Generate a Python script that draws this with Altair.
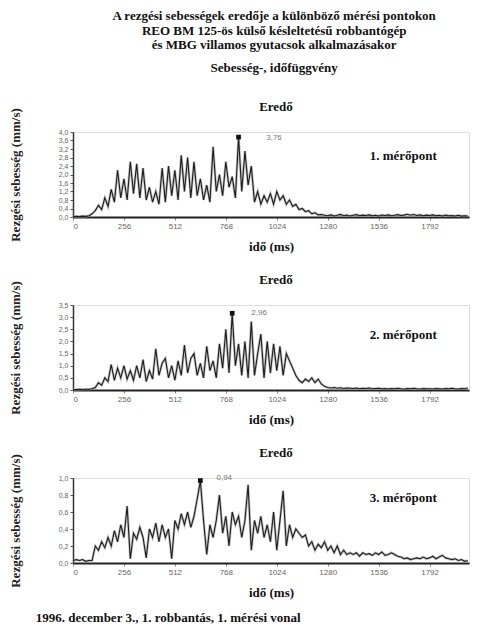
import altair as alt
import pandas as pd

# sampling grid (ms)
times = list(range(0, 2000, 16))

# 1. mérőpont – resultant velocity (mm/s)
v1 = [0.02, 0.03, 0.02, 0.04, 0.03, 0.06, 0.15, 0.3,
      0.55, 0.35, 0.9, 0.5, 1.3, 0.7, 2.2, 0.9,
      1.8, 0.8, 2.6, 1.1, 2.5, 0.9, 2.3, 0.8,
      1.4, 0.7, 1.2, 0.6, 2.3, 0.7, 2.4, 1.0,
      2.2, 0.8, 2.9, 1.2, 2.8, 0.9, 2.6, 1.0,
      1.8, 0.8, 1.5, 0.7, 3.3, 1.2, 2.0, 1.0,
      2.6, 1.4, 1.9, 0.9, 3.76, 1.2, 3.1, 1.5,
      2.4, 0.7, 1.2, 0.6, 1.0, 0.7, 1.1, 0.6,
      1.2, 0.8, 1.0, 0.6, 0.8, 0.5, 0.6, 0.35,
      0.4, 0.25, 0.3, 0.15, 0.2, 0.1, 0.12, 0.08,
      0.06, 0.1, 0.05, 0.08, 0.12, 0.06, 0.09, 0.05,
      0.08, 0.11, 0.06, 0.09, 0.07, 0.1, 0.06, 0.08,
      0.05, 0.09, 0.07, 0.1, 0.06, 0.08, 0.11, 0.07,
      0.09, 0.13, 0.08, 0.12, 0.07, 0.1, 0.06, 0.09,
      0.07, 0.1, 0.06, 0.08, 0.05, 0.09, 0.06, 0.07,
      0.05, 0.08, 0.04, 0.06, 0.05]

# 2. mérőpont
v2 = [0.02, 0.02, 0.03, 0.02, 0.03, 0.03, 0.05, 0.1,
      0.3, 0.2, 0.5, 0.35, 1.05, 0.4, 0.9, 0.5,
      1.0, 0.45, 0.8, 0.4, 1.0, 0.5, 1.25, 0.35,
      0.8, 0.45, 1.7, 0.6, 1.1, 1.3, 0.5, 1.0,
      0.4, 1.2, 0.6, 1.85, 0.7, 1.3, 1.5, 0.6,
      1.1, 0.5, 1.8, 0.8, 1.2, 0.5, 1.9, 0.9,
      2.5, 0.7, 3.16, 1.0, 1.9, 0.6, 2.0, 0.5,
      2.82, 0.6, 1.5, 2.3, 0.5, 2.0, 0.7, 1.9,
      0.8, 1.8, 0.6, 1.5, 1.2, 0.9, 0.6, 0.4,
      0.3, 0.45, 0.35, 0.5, 0.3, 0.45, 0.25, 0.15,
      0.1, 0.08, 0.1, 0.07, 0.09, 0.06, 0.08, 0.07,
      0.06, 0.08, 0.05, 0.07, 0.06, 0.08, 0.05, 0.06,
      0.07, 0.05, 0.06, 0.04, 0.06, 0.05, 0.07, 0.05,
      0.04, 0.06, 0.05, 0.07, 0.05, 0.04, 0.06, 0.05,
      0.05, 0.04, 0.06, 0.05, 0.04, 0.06, 0.05, 0.07,
      0.05, 0.04, 0.06, 0.05, 0.08]

# 3. mérőpont
v3 = [0.03, 0.04, 0.03, 0.04, 0.02, 0.03, 0.03, 0.2,
      0.15, 0.25, 0.18, 0.3, 0.2, 0.38, 0.25, 0.45,
      0.3, 0.67, 0.05, 0.35, 0.28, 0.42, 0.3, 0.06,
      0.4, 0.3, 0.47, 0.25, 0.45, 0.3, 0.4, 0.05,
      0.5, 0.4, 0.58, 0.45, 0.6, 0.42, 0.55, 0.75,
      0.97, 0.5, 0.1, 0.45, 0.3, 0.5, 0.8, 0.35,
      0.55, 0.2, 0.6, 0.45, 0.55, 0.3, 0.5, 0.92,
      0.15, 0.5, 0.35, 0.55, 0.3, 0.45, 0.25, 0.6,
      0.15, 0.5, 0.85, 0.2, 0.45, 0.3, 0.4, 0.35,
      0.3, 0.33, 0.2, 0.25, 0.15, 0.22, 0.18, 0.25,
      0.15, 0.2, 0.12, 0.2, 0.1, 0.15, 0.1, 0.12,
      0.1, 0.12, 0.08, 0.12, 0.1, 0.11, 0.09, 0.12,
      0.1, 0.13, 0.09, 0.1, 0.12, 0.1, 0.08, 0.07,
      0.05, 0.06, 0.04, 0.05, 0.06, 0.05, 0.07, 0.05,
      0.06, 0.08, 0.05, 0.07, 0.09, 0.06, 0.05, 0.04,
      0.05, 0.03, 0.04, 0.02, 0.03]

x_ticks = [0, 256, 512, 768, 1024, 1280, 1536, 1792]
y1_ticks = [0.0, 0.4, 0.8, 1.2, 1.6, 2.0, 2.4, 2.8, 3.2, 3.6, 4.0]
y2_ticks = [0.0, 0.5, 1.0, 1.5, 2.0, 2.5, 3.0, 3.5]
y3_ticks = [0.0, 0.2, 0.4, 0.6, 0.8, 1.0]

point_labels = ["1. mérőpont", "2. mérőpont", "3. mérőpont"]
peak_texts = ["3,76", "2,96", "0,94"]

title_lines = ["A rezgési sebességek eredője a különböző mérési pontokon",
               "REO BM 125-ös külső késleltetésű robbantógép",
               "és MBG villamos gyutacsok alkalmazásakor"]
subtitle = "Sebesség-, időfüggvény"
panel_title = "Eredő"
x_title = "idő (ms)"
y_title = "Rezgési sebesség (mm/s)"
footer = "1996. december 3., 1. robbantás, 1. mérési vonal"

SERIF = "Liberation Serif"
W, H = 396, 85


def panel(vals, ymax, yticks, label, peak_text, label_pos, peak_pos):
    df = pd.DataFrame({"t": times, "v": vals})
    x = alt.X("t:Q", scale=alt.Scale(domain=[0, 1990], nice=False, zero=False),
              axis=alt.Axis(values=x_ticks, format="d", labelOverlap=False,
                            title=x_title, labelFont="Liberation Sans",
                            labelFontSize=8, labelColor="#666", tickColor="#888",
                            tickSize=3, domainColor="#222", domainWidth=2,
                            titleFont=SERIF, titleFontSize=13, titleFontWeight="bold",
                            titleColor="#111", titlePadding=10, grid=False))
    y = alt.Y("v:Q", scale=alt.Scale(domain=[0, ymax], nice=False),
              axis=alt.Axis(values=yticks, labelOverlap=False,
                            labelExpr="replace(format(datum.value, '.1f'), '.', ',')",
                            title=y_title, labelFont="Liberation Sans", labelFontSize=7,
                            labelColor="#666", tickColor="#555", tickSize=3,
                            domainColor="#333", domainWidth=1.5,
                            titleFont=SERIF, titleFontSize=13, titleFontWeight="bold",
                            titleColor="#222", titlePadding=36, grid=False))
    halo = alt.Chart(df).mark_line(color="#999999", strokeWidth=2.6, opacity=0.6).encode(x=x, y=y)
    line = alt.Chart(df).mark_line(color="#1e1e1e", strokeWidth=1.1).encode(x=x, y=y)
    imax = vals.index(max(vals))
    pk = pd.DataFrame({"t": [times[imax]], "v": [vals[imax]]})
    peak_pt = alt.Chart(pk).mark_square(size=22, color="#111", opacity=1).encode(x=x, y=y)
    ptxt = pd.DataFrame({"t": [peak_pos[0]], "v": [peak_pos[1]], "s": [peak_text]})
    peak_label = alt.Chart(ptxt).mark_text(font="Liberation Sans", fontSize=8, color="#777").encode(
        x=x, y=y, text="s:N")
    ltxt = pd.DataFrame({"t": [label_pos[0]], "v": [label_pos[1]], "s": [label]})
    lbl = alt.Chart(ltxt).mark_text(font=SERIF, fontSize=13, fontWeight="bold", color="#111").encode(
        x=x, y=y, text="s:N")
    return alt.layer(halo, line, peak_pt, peak_label, lbl).properties(
        width=W, height=H,
        title=alt.TitleParams(panel_title, font=SERIF, fontSize=13, fontWeight="bold",
                              color="#111", offset=-6, dx=5))


p1 = panel(v1, 4.0, y1_ticks, point_labels[0], peak_texts[0], (1660, 2.87), (1010, 3.72))
p2 = panel(v2, 3.5, y2_ticks, point_labels[1], peak_texts[1], (1660, 2.25), (935, 3.19))
p3 = panel(v3, 1.0, y3_ticks, point_labels[2], peak_texts[2], (1660, 0.76), (760, 1.0))

p3w = alt.vconcat(p3, title=alt.TitleParams(footer, orient="bottom", anchor="start",
                                            font=SERIF, fontSize=13, fontWeight="bold",
                                            color="#111", offset=12, dx=27))

chart = alt.vconcat(p1, p2, p3w, spacing=19, title=alt.TitleParams(
    title_lines, subtitle=subtitle, font=SERIF, fontSize=13, fontWeight="bold",
    color="#111", lineHeight=14.5, subtitleFont=SERIF, subtitleFontSize=13,
    subtitleFontWeight="bold", subtitleColor="#111", subtitlePadding=10,
    anchor="middle", offset=25, dx=33)).properties(
    padding={"left": 0, "top": 2, "right": 0, "bottom": 0}).configure_view(
    stroke=None).configure_axis(labelOverlap=False).configure(background="white")

chart.save("out.html", embed_options={"renderer": "svg", "actions": False})
